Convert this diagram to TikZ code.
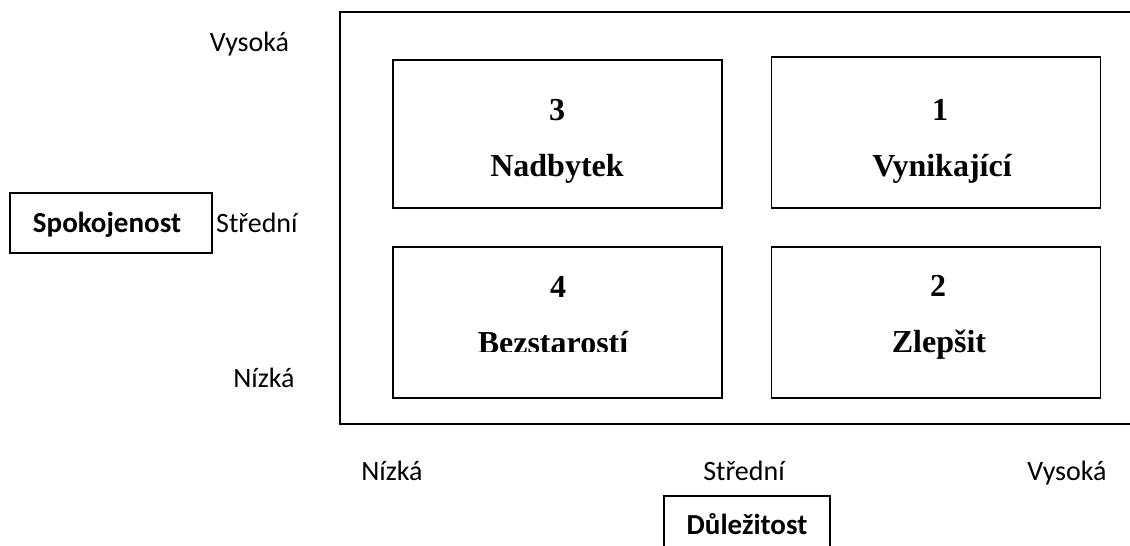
\documentclass[tikz,border=0pt]{standalone}
\usepackage{fontspec}
\setmainfont{Liberation Serif}
\newfontfamily\labelfont{Carlito}
\tikzset{
  frameline/.style={draw, line width=1.8pt},
  quadbox/.style={draw, line width=1.8pt, inner sep=0pt, minimum width=329pt},
  titlebox/.style={draw, line width=1.5pt, inner sep=0pt},
  axislabel/.style={font=\labelfont\fontsize{28}{30}\selectfont, inner sep=0pt, anchor=base},
  axistitle/.style={font=\labelfont\bfseries\fontsize{29}{31}\selectfont, inner sep=0pt, anchor=base},
  quadtext/.style={font=\bfseries\fontsize{32}{34}\selectfont, inner sep=0pt, anchor=base},
}
\begin{document}
\begin{tikzpicture}[x=1pt,y=-1pt]
\useasboundingbox (0,0) rectangle (1130,546);
\clip (0,0) rectangle (1130,546);

% outer field, open to the right
\node[frameline, inner sep=0pt, minimum width=820pt, minimum height=412pt] (field) at (750,218) {};

% four quadrants
\node[quadbox, minimum height=148pt] (q3) at (557.5,134) {};
\node[quadbox, minimum height=151pt] (q1) at (936,132.5) {};
\node[quadbox, minimum height=151pt] (q4) at (557.5,322.5) {};
\node[quadbox, minimum height=151pt] (q2) at (936,322.5) {};

\node[quadtext] (n3) at (557,120) {3};
\node[quadtext] (t3) at (557,176) {Nadbytek};
\node[quadtext] (n1) at (940,120) {1};
\node[quadtext] (t1) at (942,176) {Vynikající};
\node[quadtext] (n4) at (558,297) {4};
\begin{scope}
  \clip (393,247) rectangle (722,351);
  \node[quadtext] (t4) at (553,353) {Bezstarostí};
\end{scope}
\node[quadtext] (n2) at (938,296) {2};
\node[quadtext] (t2) at (939,352) {Zlepšit};

% vertical axis: satisfaction
\node[axislabel] (vhigh) at (249.5,51) {Vysoká};
\node[axislabel, anchor=base west] (vmid) at (216,232) {Střední};
\node[axislabel] (vlow) at (264,387) {Nízká};
\node[titlebox, minimum width=202pt, minimum height=60pt] (satbox) at (111,223) {};
\node[axistitle] (sat) at (107,232) {Spokojenost};

% horizontal axis: importance
\node[axislabel] (hlow) at (392,480) {Nízká};
\node[axislabel] (hmid) at (744,480) {Střední};
\node[axislabel] (hhigh) at (1067,480) {Vysoká};
\node[titlebox, minimum width=166pt, minimum height=70pt] (impbox) at (747,531) {};
\node[axistitle] (imp) at (747,534) {Důležitost};
\end{tikzpicture}
\end{document}
